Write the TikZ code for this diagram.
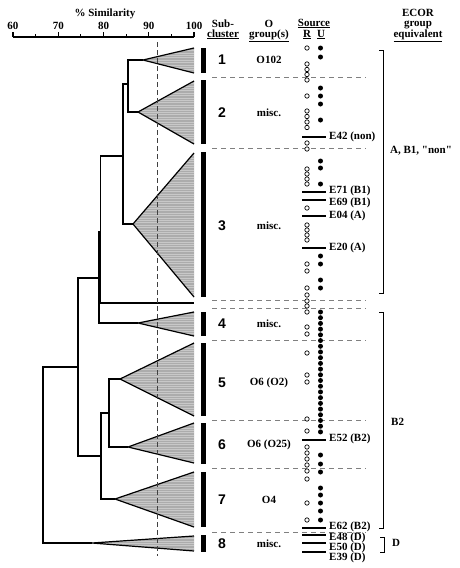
\documentclass[tikz,border=0pt]{standalone}
\usepackage{fontspec}
\setmainfont{Liberation Serif}
\newfontfamily\numfont{Liberation Sans}
\usepackage{tikz}

\newcommand\labfont{\bfseries\fontsize{11}{12}\selectfont}

\begin{document}
\begin{tikzpicture}[x=1pt,y=-1pt,
    tree/.style={line width=1.2pt},
    clust/.style={fill=gray!65,path picture={
        \foreach \k in {1,...,62}
          \draw[white,opacity=0.35,line width=0.3pt]
            ([yshift=-\k*2.4pt]path picture bounding box.north west) --
            ([yshift=-\k*2.4pt]path picture bounding box.north east);}},
    bar/.style={line width=5pt},
    ebar/.style={line width=2pt},
    cut/.style={black!75,line width=0.9pt,dash pattern=on 5pt off 3pt},
    sep/.style={gray,line width=0.8pt,dash pattern=on 5pt off 4pt},
    brk/.style={line width=0.9pt},
    rdot/.style={circle,draw,fill=white,line width=0.7pt,inner sep=0pt,minimum size=4.4pt},
    udot/.style={circle,fill,inner sep=0pt,minimum size=5pt},
    lab/.style={font=\labfont},
    num/.style={font=\numfont\bfseries\fontsize{14}{14}\selectfont}]
    \useasboundingbox (0,0) rectangle (459,568);

    % Similarity axis
    \node[lab,anchor=base] (sim) at (105,16) {\% Similarity};
    \draw[tree] (13,37) -- (194,37);
    \foreach \s in {60,70,80,90,100} {
        \draw[tree] ({13+4.525*(\s-60)},37) -- ++(0,-5);
        \node[lab,anchor=base] (ax\s) at ({13+4.525*(\s-60)},29) {\s};
    }
    \foreach \s in {65,75,85,95} {
        \draw[tree] ({13+4.525*(\s-60)},37) -- ++(0,-3.5);
    }

    % Column heads
    \node[lab,anchor=base] (hsub) at (223,27) {Sub-};
    \node[lab,anchor=base] (hclu) at (223,37) {\underline{cluster}};
    \node[lab,anchor=base] (ho) at (269,27) {O};
    \node[lab,anchor=base] (hgrp) at (269,37) {\underline{group(s)}};
    \node[lab,anchor=base] (hsrc) at (314,26) {\underline{Source}};
    \node[lab,anchor=base] (hr) at (307,37) {\underline{R}};
    \node[lab,anchor=base] (hu) at (321,37) {\underline{U}};
    \node[lab,anchor=base] (hecor) at (418,16) {ECOR};
    \node[lab,anchor=base] (hgroup) at (418,26) {group};
    \node[lab,anchor=base] (hequiv) at (418,37) {\underline{equivalent}};

    % Collapsed clusters
    \foreach \n/\ax/\ay/\ya/\yb in {1/143/60/48/73, 2/138/112/81/144,
        3/133/224/153/297, 4/138/323/312/336, 5/120/379/343/416,
        6/128/447/423/463, 7/115/499/472/527, 8/92/543/536/551} {
        \coordinate (t\n) at (\ax,\ay);
        \fill[clust] (t\n) -- (194,\ya) -- (194,\yb) -- cycle;
        \draw[tree] (194,\ya) -- (t\n) -- (194,\yb);
    }

    % Junctions
    \coordinate (j12) at (128,84);
    \coordinate (j123) at (123,156);
    \coordinate (jA) at (100.5,232);
    \coordinate (jB) at (99,278);
    \coordinate (jC) at (78,367);
    \coordinate (jE) at (109,413);
    \coordinate (jD) at (101,456);
    \coordinate (root) at (43,455);
    \coordinate (s1) at (194,303);

    % Tree
    \draw[tree] (t1) -| (j12) |- (t2);
    \draw[tree] (j12) -| (j123) |- (t3);
    \draw[tree] (j123) -| (jA) |- (s1);
    \draw[tree] (jA) -| (jB) |- (t4);
    \draw[tree] (jB) -| (jC) |- (jD);
    \draw[tree] (t5) -| (jE) |- (t6);
    \draw[tree] (jE) -| (jD) |- (t7);
    \draw[tree] (jC) -| (root) |- (t8);

    % Cut-off
    \draw[cut] (157,42) -- (157,556);

    % Subcluster bars
    \foreach \ya/\yb in {48/73, 80/144, 152/297, 312/336, 343/416,
        423/464, 472/527, 535/552} {
        \draw[bar] (203.5,\ya) -- (203.5,\yb);
    }
    \foreach \y in {77,148,300,308,340,420,468,532} {
        \draw[sep] (212,\y) -- (366,\y);
    }

    % Subcluster numbers and O groups
    \foreach \n/\y/\og in {1/60/O102, 2/113/misc., 3/226/misc., 4/324/misc.,
        5/383/O6 (O2), 6/445/O6 (O25), 7/500/O4, 8/544/misc.} {
        \node[num] (c\n) at (222,\y) {\n};
        \node[lab] (o\n) at (269,\y) {\og};
    }

    % Source: R
    \foreach \y [count=\i] in {48,64,69.5,74.5,80,96,111,116.5,122,127.5,
        143,149,169,174,179,184,208,225,230,235,240,264,271,288,295,301,
        306,312,327,334,353,375,382,419,431,447,453,459,465,471,479,503,520} {
        \node[rdot] (r\i) at (307,\y) {};
    }
    % Source: U
    \foreach \y [count=\i] in {48,57,88,96,104,120,161,168,184,256,264,
        280,288,455,464,472,488,495,503,511,520} {
        \node[udot] (u\i) at (320.5,\y) {};
    }
    \foreach \k in {0,...,21} {
        \node[udot] (ub\k) at (320.5,{312+5.71*\k}) {};
    }

    % ECOR reference strains
    \foreach \nm/\by/\ly [count=\i] in {E42 (non)/137/137, E71 (B1)/192/191,
        E69 (B1)/200/202.5, E04 (A)/216/216, E20 (A)/248/248, E52 (B2)/440/439,
        E62 (B2)/528/527, E48 (D)/535/537.5, E50 (D)/543/547.5, E39 (D)/552/557.5} {
        \node[lab,anchor=west,inner sep=0pt] (e\i) at (329,\ly) {\nm};
        \draw[ebar] (302,\by) -- (326,\by);
    }

    % ECOR groups
    \draw[brk] (379,50) -- (383,50) -- (383,293) -- (379,293);
    \draw[brk] (379,312) -- (383,312) -- (383,528) -- (379,528);
    \draw[brk] (380,537) -- (384,537) -- (384,552) -- (380,552);
    \node[lab,anchor=west,inner sep=0pt] (gA) at (390,151)
        {A, B1, \textquotedbl non\textquotedbl};
    \node[lab,anchor=west,inner sep=0pt] (gB) at (391,422) {B2};
    \node[lab,anchor=west,inner sep=0pt] (gD) at (392,543) {D};
\end{tikzpicture}
\end{document}
